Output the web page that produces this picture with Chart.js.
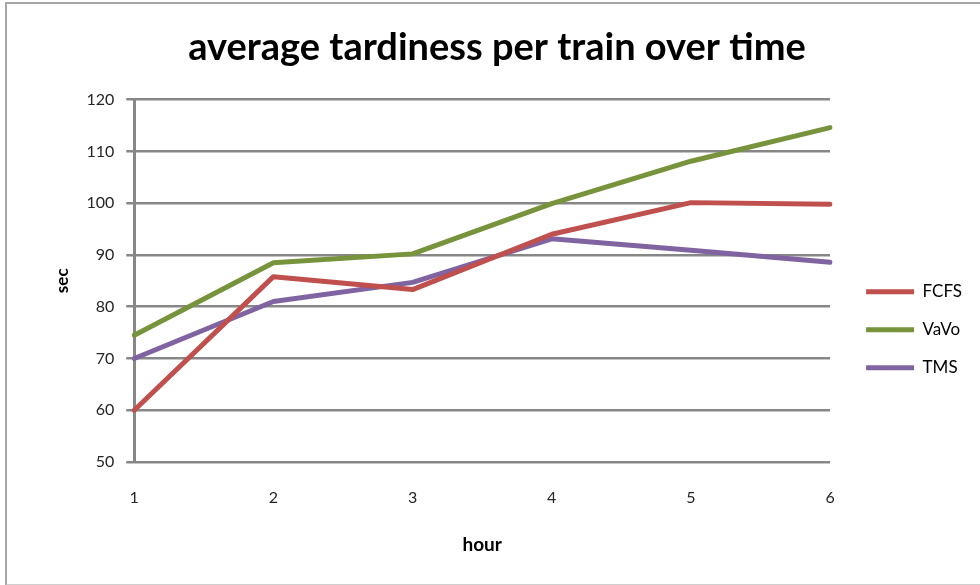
<!DOCTYPE html>
<html>
<head>
<meta charset="utf-8">
<script src="https://cdn.jsdelivr.net/npm/chart.js@4.4.0/dist/chart.umd.min.js"></script>
<style>
  html, body { margin: 0; padding: 0; background: #fff; }
  #wrap { position: relative; width: 980px; height: 585px; overflow: hidden; }
  #frame { position: absolute; left: 5px; top: 2px; width: 990px; height: 580px;
           border: 2px solid #a6a6a6; border-bottom-color: #cfcfcf; pointer-events: none; }
  canvas { position: absolute; left: 0; top: 0; }
</style>
</head>
<body>
<div id="wrap">
  <canvas id="chart" width="980" height="585"></canvas>
  <div id="frame"></div>
</div>
<script>
// hours on the x axis
const hours = ['1', '2', '3', '4', '5', '6'];

// average tardiness (sec) per strategy
const fcfs = [60, 85.8, 83.3, 94, 100.1, 99.8];
const vavo = [74.5, 88.5, 90.2, 99.9, 108.1, 114.6];
const tms = [70, 81, 84.7, 93.1, 90.9, 88.6];

const gridGrey = '#878787';
const textGrey = '#262626';

function series(label, data, color) {
    return {
        label,
        data,
        borderColor: color,
        backgroundColor: color,
        borderWidth: 5,
        borderCapStyle: 'round',
        borderJoinStyle: 'round',
        pointRadius: 0,
        tension: 0
    };
}

new Chart(document.getElementById('chart'), {
    type: 'line',
    data: {
        labels: hours,
        datasets: [
            series('FCFS', fcfs, '#C0504D'),
            series('VaVo', vavo, '#77933C'),
            series('TMS', tms, '#8064A2')
        ]
    },
    options: {
        responsive: false,
        animation: false,
        layout: { padding: { top: 10, left: 22, right: 8, bottom: 25 } },
        plugins: {
            title: {
                display: true,
                text: 'average tardiness per train over time',
                color: '#000',
                font: { family: 'Lato', size: 38, weight: 'bold' },
                padding: { top: 15, bottom: 29 }
            },
            legend: {
                position: 'right',
                // empty title only pushes the entries down to sit beside the plot
                title: { display: true, text: ' ', padding: 37.6 },
                labels: {
                    usePointStyle: true,
                    pointStyle: 'line',
                    pointStyleWidth: 48,
                    padding: 21,
                    color: '#000',
                    font: { family: 'Lato', size: 17 }
                }
            },
            tooltip: { enabled: false }
        },
        scales: {
            x: {
                grid: { display: false, drawTicks: false },
                border: { display: false },
                ticks: {
                    color: textGrey,
                    padding: 26,
                    font: { family: 'Lato', size: 16 }
                },
                title: {
                    display: true,
                    text: 'hour',
                    color: '#000',
                    font: { family: 'Lato', size: 19, weight: 'bold' },
                    padding: { top: 0, bottom: 4 }
                }
            },
            y: {
                min: 50,
                max: 120,
                ticks: {
                    stepSize: 10,
                    color: textGrey,
                    padding: 12,
                    font: { family: 'Lato', size: 16 }
                },
                grid: { color: gridGrey, lineWidth: 2.5, tickLength: 8 },
                border: { display: true, color: gridGrey, width: 3 },
                title: {
                    display: true,
                    text: 'sec',
                    color: '#000',
                    font: { family: 'Lato', size: 17, weight: 'bold' },
                    padding: { top: 30, bottom: 2 }
                }
            },
            // blank spacer between the plot and the legend
            gap: {
                type: 'linear',
                position: 'right',
                display: true,
                grid: { display: false, drawTicks: false },
                border: { display: false },
                ticks: { display: false },
                afterFit: (scale) => { scale.width = 15; }
            }
        }
    }
});
</script>
</body>
</html>
